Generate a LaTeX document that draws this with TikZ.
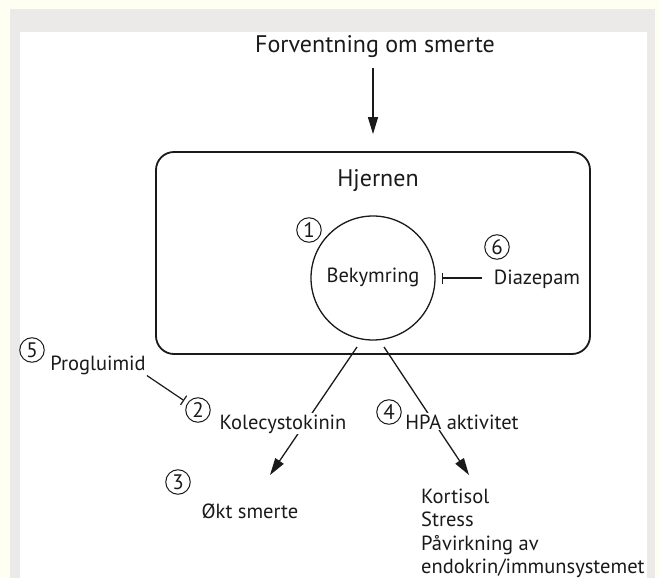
\documentclass[tikz,border=0pt]{standalone}
\usepackage{fontspec}
\setmainfont{PT Sans}
\usetikzlibrary{arrows.meta}
\definecolor{cream}{HTML}{FFFEF2}
\definecolor{framegray}{HTML}{ECEAE8}
\definecolor{ink}{HTML}{1A1A1A}
\tikzset{
  txt/.style={font=\fontsize{20.5}{24}\selectfont, text=ink, inner sep=1pt},
  titletxt/.style={font=\fontsize{24}{28}\selectfont, text=ink, inner sep=1pt},
  num/.style={circle, draw=ink, line width=1pt, inner sep=0pt, minimum size=24.5pt,
              font=\fontsize{21}{21}\selectfont, text=ink},
  arr/.style={draw=ink, line width=1.3pt, -{Triangle[length=17pt,width=10pt]}},
  inh/.style={draw=ink, line width=1.2pt, -{Bar[width=11pt,line width=1.2pt]}},
}
\begin{document}
\begin{tikzpicture}[x=1pt,y=-1pt]
\useasboundingbox (0,0) rectangle (659,578);
\fill[cream] (0,0) rectangle (659,578);
\fill[framegray] (10,9) rectangle (655,578);
\fill[white] (20,32) rectangle (647,578);

% top
\node[titletxt, anchor=base] (expect) at (375,53) {Forventning om smerte};
\node[draw=ink, rounded corners=18pt, line width=1.8pt, minimum width=434pt,
      minimum height=202pt, inner sep=0pt] (brain) at (373,253) {};
\draw[arr, shorten <=9pt, shorten >=17pt] (expect.south -| brain.north) -- (brain.north);

\node[titletxt, anchor=base] (hjernen) at (378,186) {Hjernen};
\node[circle, draw=ink, line width=1.3pt, minimum size=124pt, inner sep=0pt] (bek) at (373,278) {};
\node[txt, anchor=base] (bektxt) at (373,282) {Bekymring};
\node[num] (n1) at (309,230) {1};
\node[num] (n6) at (497,247) {6};
\node[txt, anchor=base] (diaz) at (537,284) {Diazepam};
\draw[inh, shorten <=11pt, shorten >=6pt] (diaz.west |- bek) -- (bek.east);

% lower arrows
\coordinate (kstart) at (357,347);
\coordinate (ktip) at (270,475);
\coordinate (hstart) at (384,347);
\coordinate (htip) at (469,475);
\draw[arr] (kstart) -- (ktip);
\draw[arr] (hstart) -- (htip);
\node[txt, fill=white, anchor=base] (kol) at (283,429) {Kolecystokinin};
\node[txt, fill=white, anchor=base] (hpa) at (462,429) {HPA aktivitet};
\node[num] (n2) at (198,410) {2};
\node[num] (n4) at (389,412) {4};

% left
\node[num] (n5) at (32,350) {5};
\node[txt, anchor=base] (prog) at (98,370) {Progluimid};
\draw[inh, shorten >=4pt] (prog.south east) -- (n2);

% outcomes
\node[num] (n3) at (178,482) {3};
\node[txt, anchor=base] (okt) at (250,518) {Økt smerte};
\node[txt, anchor=base west] (k1) at (420,503) {Kortisol};
\node[txt, anchor=base west] (k2) at (420,526.5) {Stress};
\node[txt, anchor=base west] (k3) at (420,550) {Påvirkning av};
\node[txt, anchor=base west] (k4) at (420,573.5) {endokrin/immunsystemet};
\end{tikzpicture}
\end{document}
